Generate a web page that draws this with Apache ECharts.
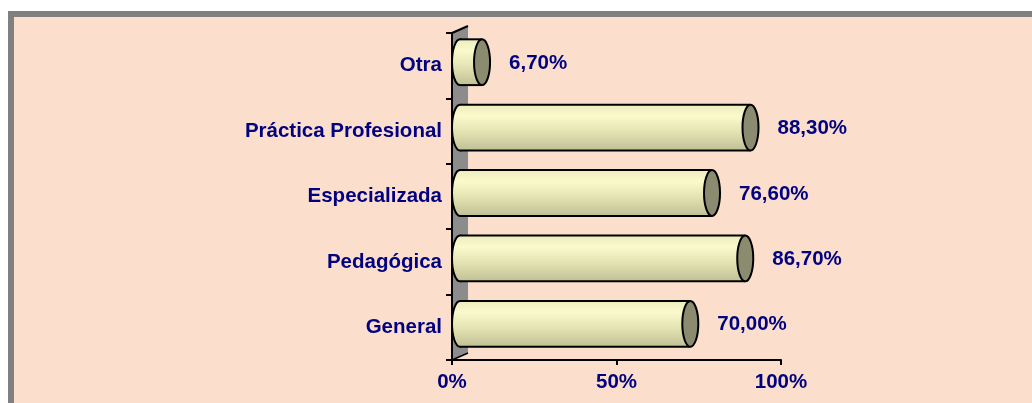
<!DOCTYPE html>
<html>
<head>
<meta charset="utf-8">
<script src="https://cdn.jsdelivr.net/npm/echarts@6/dist/echarts.min.js"></script>
<style>
  html, body { margin: 0; padding: 0; background: #ffffff; }
  #frame {
    position: absolute; left: 8px; top: 11px; right: 0; bottom: 0;
    border-top: 6px solid #808080; border-left: 6px solid #808080;
    background: #fbdfcc;
  }
  #chart { position: absolute; left: 0; top: 0; width: 1032px; height: 403px; }
</style>
</head>
<body>
<div id="frame"></div>
<div id="chart"></div>
<script>
// categories bottom -> top, values in %
const categories = ['General', 'Pedagógica', 'Especializada', 'Práctica Profesional', 'Otra'];
const values = [70.0, 86.7, 76.6, 88.3, 6.7];
const xTicks = [0, 50, 100];

const navy = '#000080';
const font = '"Liberation Sans", Arial, sans-serif';
const depthX = 16, depthY = -7;

const chart = echarts.init(document.getElementById('chart'));

function renderWall (params, api) {
    const cs = params.coordSys;
    const l = cs.x, t = cs.y, b = cs.y + cs.height;
    return {
        type: 'group',
        children: [
            {
                type: 'polygon',
                shape: { points: [[l, t], [l + depthX, t + depthY], [l + depthX, b + depthY], [l, b]] },
                style: { fill: '#8c8c8c' }
            },
            {
                type: 'polyline',
                shape: { points: [[l, b], [l, t], [l + depthX, t + depthY]] },
                style: { fill: null, stroke: '#000', lineWidth: 2 }
            },
            {
                type: 'line',
                shape: { x1: l, y1: b, x2: l + depthX, y2: b + depthY },
                style: { stroke: '#000', lineWidth: 1.5 }
            }
        ]
    };
}

function renderBar (params, api) {
    const cat = api.value(0);
    const v = api.value(1);
    const start = api.coord([0, cat]);
    const end = api.coord([v, cat]);
    const band = api.size([0, 1])[1];
    const dx = depthX / 2, dy = depthY / 2;
    const x0 = start[0] + dx;
    const x1 = end[0] + dx;
    const cy = start[1] + dy;
    const ry = band * 0.35;
    const rx = 8;
    const grad = new echarts.graphic.LinearGradient(0, 0, 0, 1, [
        { offset: 0, color: '#ececc0' },
        { offset: 0.25, color: '#fafacc' },
        { offset: 0.6, color: '#e2e2b2' },
        { offset: 1, color: '#c0c096' }
    ]);
    const label = v.toFixed(2).replace('.', ',') + '%';
    return {
        type: 'group',
        children: [
            { type: 'ellipse', shape: { cx: x0, cy: cy, rx: rx, ry: ry },
              style: { fill: grad, stroke: '#000', lineWidth: 2 } },
            { type: 'rect', shape: { x: x0, y: cy - ry, width: x1 - x0, height: ry * 2 },
              style: { fill: grad } },
            { type: 'line', shape: { x1: x0, y1: cy - ry, x2: x1, y2: cy - ry },
              style: { stroke: '#000', lineWidth: 2 } },
            { type: 'line', shape: { x1: x0, y1: cy + ry, x2: x1, y2: cy + ry },
              style: { stroke: '#000', lineWidth: 2 } },
            { type: 'ellipse', shape: { cx: x1, cy: cy, rx: rx, ry: ry },
              style: { fill: '#8b8b6f', stroke: '#000', lineWidth: 2 } },
            { type: 'text', x: x1 + rx + 19, y: cy + 1,
              style: { text: label, fill: navy, font: 'bold 20.5px ' + font,
                       textAlign: 'left', textVerticalAlign: 'middle' } }
        ]
    };
}

chart.setOption({
    backgroundColor: 'transparent',
    animation: false,
    grid: { left: 452, right: 251, top: 33, bottom: 43 },
    xAxis: {
        type: 'value',
        min: xTicks[0],
        max: xTicks[xTicks.length - 1],
        interval: 50,
        axisLine: { show: true, lineStyle: { color: '#000', width: 2 } },
        axisTick: { show: true, length: 5, lineStyle: { color: '#000', width: 2 } },
        splitLine: { show: false },
        axisLabel: {
            margin: 12,
            color: navy,
            fontWeight: 'bold',
            fontSize: 20.5,
            fontFamily: font,
            formatter: '{value}%'
        }
    },
    yAxis: {
        type: 'category',
        data: categories,
        axisLine: { show: true, lineStyle: { color: '#000', width: 2 } },
        axisTick: { show: true, length: 6, lineStyle: { color: '#000', width: 2 } },
        axisLabel: {
            margin: 10,
            color: navy,
            fontWeight: 'bold',
            fontSize: 20.5,
            fontFamily: font
        }
    },
    series: [
        {
            type: 'custom',
            renderItem: renderWall,
            data: [[0, 0]],
            z: 1,
            silent: true
        },
        {
            type: 'custom',
            renderItem: renderBar,
            encode: { x: 1, y: 0 },
            data: values.map((v, i) => [i, v]),
            z: 3
        }
    ]
});
</script>
</body>
</html>
